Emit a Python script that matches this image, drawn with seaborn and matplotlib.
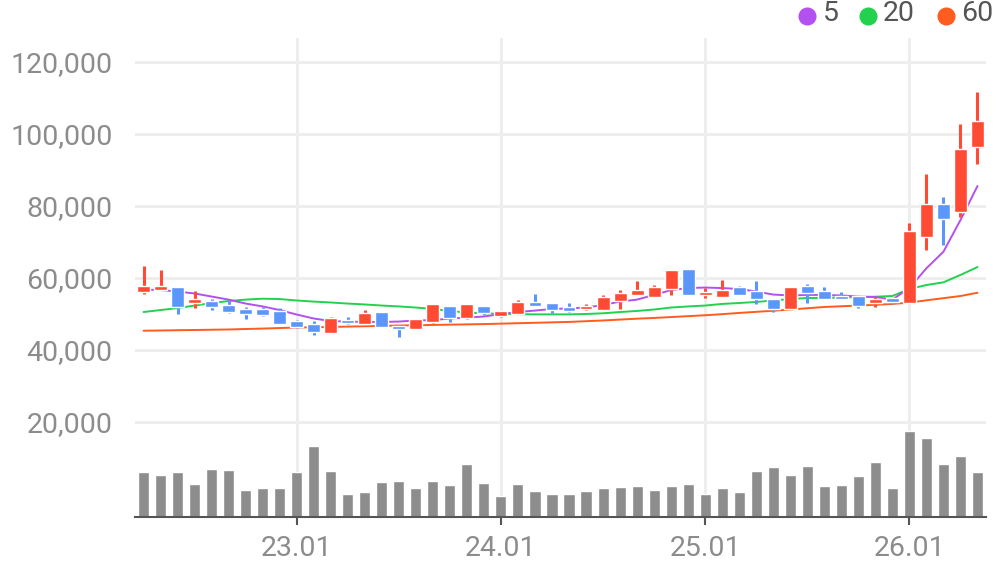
import matplotlib
matplotlib.use("Agg")
import matplotlib.pyplot as plt
from matplotlib.lines import Line2D
from matplotlib.ticker import FuncFormatter
import numpy as np
import pandas as pd
import seaborn as sns

# monthly candles, 2022.04 .. 2026.05
months = pd.period_range("2022-04", "2026-05", freq="M")

opens = [56200, 56700, 57500, 53100, 53500, 52500, 51300, 51300, 50830, 48150,
         47300, 44800, 48300, 47300, 50550, 46750, 45800, 47800, 52200, 49000,
         52200, 49500, 50000, 53300, 52950, 51850, 51400, 51200, 53600, 55350,
         54800, 56950, 62500, 55200, 54800, 57500, 56400, 54150, 51500, 57800,
         56400, 55100, 55100, 53000, 54550, 53150, 71500, 80550, 78400, 96450]
highs = [63300, 62200, 57500, 56400, 54200, 53600, 51850, 51850, 51650, 48300,
         48150, 49200, 49200, 51100, 50550, 46750, 48600, 52800, 52200, 52800,
         52200, 50900, 53900, 55650, 52950, 53150, 52850, 55350, 56700, 59200,
         58050, 62200, 62500, 57200, 59450, 57800, 59200, 54150, 57500, 58300,
         57500, 56100, 55100, 54800, 54550, 75350, 88900, 82600, 102850, 111650]
lows = [55600, 56700, 50100, 51750, 51200, 50350, 48700, 49450, 47300, 46100,
        44150, 44800, 47100, 47300, 46500, 43700, 45800, 47500, 47800, 48600,
        49600, 49250, 50000, 52300, 50350, 50650, 51100, 51200, 51500, 55350,
        54800, 55350, 55200, 54500, 54800, 55350, 52850, 50650, 51500, 53150,
        54250, 54250, 51750, 52000, 52850, 53150, 67800, 69250, 77000, 91750]
closes = [57800, 57800, 52000, 54250, 52000, 50650, 50000, 49700, 47300, 46300,
          45100, 48800, 47400, 50250, 46500, 45800, 48600, 52800, 48900, 52800,
          50350, 50900, 53300, 52300, 51100, 50900, 52200, 54700, 55800, 56700,
          57500, 62200, 55200, 56100, 56650, 55350, 54250, 51500, 57500, 55900,
          54250, 54250, 52300, 54250, 53400, 73100, 80550, 76450, 95850, 103600]

ma5 = [56800, 56650, 56250, 55700, 54850, 54000, 52900, 52100, 51100, 49850,
       48750, 48050, 47900, 47800, 47800, 47900, 48200, 48300, 48750, 49000,
       49300, 50000, 50550, 50950, 51400, 51550, 51800, 52500, 53450, 54000,
       55300, 56650, 57200, 57350, 57200, 56950, 56250, 55400, 55150, 55300,
       55300, 55150, 54850, 54700, 54000, 57200, 62700, 67300, 76100, 85550]
ma20 = [50550, 51100, 51650, 52350, 53050, 53600, 54000, 54250, 54150, 53750,
        53450, 53200, 52900, 52650, 52350, 52100, 51800, 51400, 50850, 50400,
        50200, 50050, 49950, 49900, 49900, 49900, 50000, 50200, 50550, 50850,
        51250, 51800, 52100, 52350, 52800, 53050, 53350, 53750, 54150, 54450,
        54450, 54600, 54700, 54800, 55000, 56950, 58050, 58800, 60850, 63050]
ma60 = [45350, 45420, 45500, 45560, 45630, 45700, 45830, 45950, 46100, 46250,
        46300, 46400, 46500, 46600, 46700, 46800, 46880, 46960, 47040, 47120,
        47200, 47320, 47440, 47560, 47680, 47800, 48000, 48200, 48450, 48700,
        48900, 49150, 49400, 49650, 49950, 50300, 50600, 50900, 51250, 51600,
        51950, 52150, 52350, 52550, 52800, 53150, 53800, 54400, 55000, 55900]

volume = [4470, 4170, 4470, 3270, 4770, 4670, 2670, 2870, 2870, 4470,
          7070, 4570, 2270, 2470, 3470, 3570, 2870, 3570, 3170, 5270,
          3370, 2070, 3270, 2570, 2270, 2270, 2570, 2870, 2970, 3070,
          2670, 3070, 3270, 2270, 2870, 2470, 4570, 4970, 4170, 5070,
          3070, 3170, 4070, 5470, 2870, 8570, 7870, 5270, 6070, 4470]

price_ticks = [20000, 40000, 60000, 80000, 100000, 120000]

RED = "#ff4b33"
BLUE = "#5b96fb"
GRAY = "#8d8d8d"
C5, C20, C60 = "#b44ff0", "#22d24e", "#ff5c1f"
LABEL = "#8c8c8c"
GRID = "#ededed"

df = pd.DataFrame({"open": opens, "high": highs, "low": lows, "close": closes,
                   "ma5": ma5, "ma20": ma20, "ma60": ma60, "volume": volume})
df["idx"] = np.arange(len(df))
df["label"] = [m.strftime("%y.%m") for m in months]
jan = df[df["label"].str.endswith(".01")]

sns.set_theme(style="white")
plt.rcParams["font.family"] = ["Roboto", "DejaVu Sans"]

W, H = 996, 567
fig = plt.figure(figsize=(W / 100, H / 100), dpi=100)
left, right, top, bottom = 135, 986, 38, 516.5
ax = fig.add_axes([left / W, 1 - bottom / H, (right - left) / W, (bottom - top) / H])
axv = ax.twinx()

# volume underneath, vertical grid lines behind the bars
sns.barplot(x=df["idx"], y=df["volume"], ax=axv, color=GRAY, saturation=1,
            width=0.65, native_scale=True, errorbar=None, zorder=2)
for xi in jan["idx"]:
    axv.axvline(xi, color=GRID, linewidth=2, zorder=0)
axv.set_ylim(0, (bottom - top) * 100)
axv.set_yticks([])
axv.set_ylabel("")
axv.set_xlabel("")
axv.grid(False)
for s in axv.spines.values():
    s.set_visible(False)

# moving averages
for col, c in [("ma60", C60), ("ma20", C20), ("ma5", C5)]:
    sns.lineplot(data=df, x="idx", y=col, ax=ax, color=c, linewidth=1.4, zorder=2)

# candles
up = df["close"] >= df["open"]
colors = np.where(up, RED, BLUE)
body_lo = np.minimum(df["open"], df["close"])
body_h = np.maximum(np.abs(df["close"] - df["open"]), 300)
ax.vlines(df["idx"], df["low"], df["high"], colors=colors, linewidth=2.2, zorder=3)
ax.bar(df["idx"], body_h, bottom=body_lo, width=0.76, color=colors, zorder=4)

ax.set_xlim(-0.5, 49.5)
axv.set_xlim(-0.5, 49.5)
ax.set_ylim((494 - bottom) * 20000 / 72, (494 - top) * 20000 / 72)
ax.set_yticks(price_ticks)
ax.yaxis.set_major_formatter(FuncFormatter(lambda v, p: f"{v:,.0f}"))
ax.set_xticks(jan["idx"])
ax.set_xticklabels(jan["label"])
ax.set_xlabel("")
ax.set_ylabel("")

ax.grid(False)
ax.grid(True, axis="y", color=GRID, linewidth=2)
ax.set_axisbelow(True)
for k in ["left", "right", "top"]:
    ax.spines[k].set_visible(False)
ax.spines["bottom"].set_color("#555555")
ax.spines["bottom"].set_linewidth(1.5)
ax.tick_params(axis="y", length=0, pad=16, labelsize=20.5, labelcolor=LABEL)
ax.tick_params(axis="x", length=6, width=1.5, color="#555555", pad=7,
               labelsize=20.5, labelcolor=LABEL, bottom=True)
ax.set_zorder(axv.get_zorder() + 1)
ax.patch.set_visible(False)

# legend in the top right corner
for x_dot, x_txt, txt, c in [(806.7, 822.5, "5", C5), (868.3, 883, "20", C20),
                             (945.7, 961, "60", C60)]:
    fig.add_artist(Line2D([x_dot / W], [1 - 15.7 / H], transform=fig.transFigure,
                          marker="o", markersize=12, color=c, linestyle="none"))
    fig.text(x_txt / W, 1 - 13.5 / H, txt, fontsize=20.5, color="#555555",
             ha="left", va="center")

fig.savefig("out.png", dpi=100)
